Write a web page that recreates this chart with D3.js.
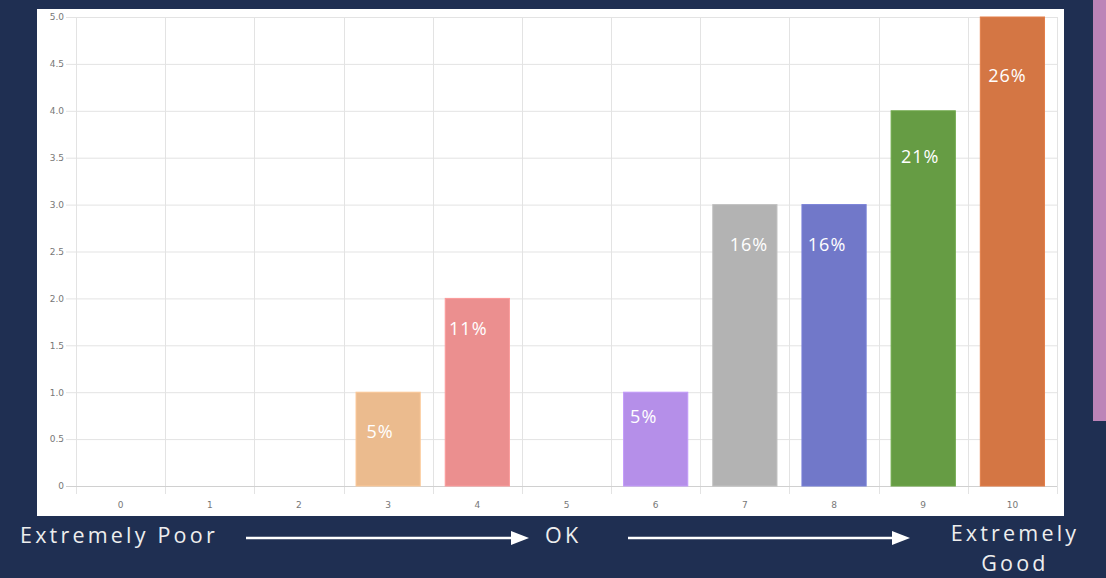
<!DOCTYPE html>
<html>
<head>
<meta charset="utf-8">
<script src="https://cdn.jsdelivr.net/npm/d3@7"></script>
<style>
html,body{margin:0;padding:0;background:#1f2f52;overflow:hidden;}
svg{display:block;}
</style>
</head>
<body>
<svg id="c" width="1106" height="578"></svg>
<script>
// ---- data ----
const categories = ["0","1","2","3","4","5","6","7","8","9","10"];
const counts = [0,0,0,1,2,0,1,3,3,4,5];
const percentLabels = ["","","","5%","11%","","5%","16%","16%","21%","26%"];
const barColors = ["#cccccc","#cccccc","#cccccc","#ebbb8e","#eb8f8f","#cccccc","#b58fe9","#b3b3b3","#7178c9","#669c44","#d47644"];
const yTicks = [0,0.5,1,1.5,2,2.5,3,3.5,4,4.5,5];
const scaleLabels = ["Extremely Poor","OK","Extremely","Good"];

// label placement tweaks (px) relative to bar top / centre
const labelDy = [0,0,0,46,37,0,31,46,46,52,65];
const labelDx = [0,0,0,-8,-9,0,-12,4,-7,-3,-5];

const svg = d3.select("#c");

// background panel
svg.append("rect").attr("x",37).attr("y",9).attr("width",1027).attr("height",507).attr("fill","#ffffff");
// side accent
svg.append("rect").attr("x",1093).attr("y",0).attr("width",13).attr("height",421).attr("fill","#bd84b8");

const pL = 76, pR = 1057, pT = 17, pB = 486;
const x = d3.scaleBand().domain(categories).range([pL,pR]).paddingInner(0.28).paddingOuter(0.14);
const y = d3.scaleLinear().domain([0,5]).range([pB,pT]);
const step = x.step();

// vertical grid lines (band boundaries)
const bounds = categories.map(c => x(c) - step*0.14).concat([pR]);
svg.append("g").selectAll("line").data(bounds).join("line")
  .attr("x1",d=>Math.round(d)+0.5).attr("x2",d=>Math.round(d)+0.5)
  .attr("y1",pT).attr("y2",pB+8)
  .attr("stroke","#e3e3e3").attr("stroke-width",1);

// y axis with grid
const yAxis = d3.axisLeft(y).tickValues(yTicks)
  .tickFormat(d => d===0 ? "0" : d3.format(".1f")(d))
  .tickSize(10).tickPadding(3);
const gy = svg.append("g").attr("transform",`translate(${pL},0)`).call(yAxis);
gy.select(".domain").remove();
gy.selectAll(".tick line").attr("x2",-10).attr("x1",pR-pL).attr("stroke","#e3e3e3");
gy.selectAll(".tick text").attr("fill","#777").attr("font-family","DejaVu Sans, sans-serif").attr("font-size",9).attr("x",-12);
gy.selectAll(".tick").filter(d=>d===0).select("line").attr("stroke","#d0d0d0");

// x axis labels
const xAxis = d3.axisBottom(x).tickSize(0).tickPadding(16);
const gx = svg.append("g").attr("transform",`translate(0,${pB})`).call(xAxis);
gx.select(".domain").remove();
gx.selectAll(".tick text").attr("fill","#777").attr("font-family","DejaVu Sans, sans-serif").attr("font-size",9);

// bars
const data = categories.map((c,i)=>({c, v:counts[i], col:barColors[i], lab:percentLabels[i], dy:labelDy[i], dx:labelDx[i]}));
svg.append("g").selectAll("rect").data(data.filter(d=>d.v>0)).join("rect")
  .attr("x",d=>x(d.c)).attr("width",x.bandwidth())
  .attr("y",d=>y(d.v)).attr("height",d=>y(0)-y(d.v))
  .attr("fill",d=>d.col)
  .attr("stroke",d=>d3.color(d.col).brighter(0.2)).attr("stroke-width",1);

// percentage labels
svg.append("g").selectAll("text").data(data.filter(d=>d.v>0)).join("text")
  .attr("x",d=>x(d.c)+x.bandwidth()/2+d.dx)
  .attr("y",d=>y(d.v)+d.dy)
  .attr("text-anchor","middle")
  .attr("fill","#ffffff")
  .attr("font-family","Open Sans, sans-serif")
  .attr("font-size",18)
  .attr("letter-spacing",1)
  .text(d=>d.lab);

// bottom scale description
const tf = "Open Sans, sans-serif";
const t = svg.append("g").attr("fill","#eeeeee").attr("font-family",tf).attr("font-size",21.5).attr("letter-spacing",3.2);
t.append("text").attr("x",20).attr("y",543).text(scaleLabels[0]);
t.append("text").attr("x",545).attr("y",543).text(scaleLabels[1]);
t.append("text").attr("x",1015).attr("y",541).attr("text-anchor","middle").text(scaleLabels[2]);
t.append("text").attr("x",1015).attr("y",571).attr("text-anchor","middle").text(scaleLabels[3]);

// arrows
function arrow(x1,x2,yy){
  svg.append("line").attr("x1",x1).attr("x2",x2-16).attr("y1",yy).attr("y2",yy).attr("stroke","#ffffff").attr("stroke-width",2.5);
  svg.append("path").attr("d",`M${x2},${yy} L${x2-18},${yy-7} L${x2-18},${yy+7} Z`).attr("fill","#ffffff");
}
arrow(246,529,538);
arrow(628,910,538);
</script>
</body>
</html>
